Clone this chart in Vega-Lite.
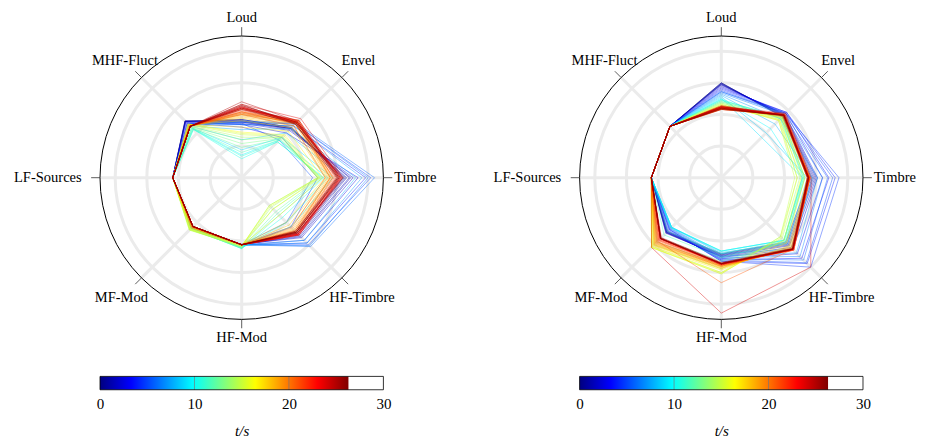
{
  "$schema": "https://vega.github.io/schema/vega-lite/v6.json",
  "padding": {"left": 13, "top": 10, "right": 0, "bottom": 0},
  "background": "#ffffff",
  "config": {"view": {"stroke": null}, "font": "Liberation Serif"},
  "bounds": "flush",
  "spacing": 195.6,
  "datasets": {
    "grid": [{"r": 0.25}, {"r": 0.5}, {"r": 0.75}, {"r": 1.0}],
    "outer": [{"r": 1.12}],
    "axes": [
      {"name": "Loud", "k": 0}, {"name": "Envel", "k": 1}, {"name": "Timbre", "k": 2}, {"name": "HF-Timbre", "k": 3},
      {"name": "HF-Mod", "k": 4}, {"name": "MF-Mod", "k": 5}, {"name": "LF-Sources", "k": 6}, {"name": "MHF-Fluct", "k": 7}
    ],
    "bar": [{"t0": 0, "t1": 26.3}],
    "frame": [{"t0": 0, "t1": 30}],
    "inner": [{"t": 10}, {"t": 20}],
    "left": [
      {"t":0,"Loud":0.46,"Envel":0.56,"Timbre":0.8,"HF-Timbre":0.62,"HF-Mod":0.53,"MF-Mod":0.55,"LF-Sources":0.545,"MHF-Fluct":0.63},
      {"t":0.3,"Loud":0.46,"Envel":0.56,"Timbre":0.81,"HF-Timbre":0.62,"HF-Mod":0.53,"MF-Mod":0.553,"LF-Sources":0.545,"MHF-Fluct":0.633},
      {"t":0.65,"Loud":0.45,"Envel":0.55,"Timbre":0.82,"HF-Timbre":0.63,"HF-Mod":0.53,"MF-Mod":0.555,"LF-Sources":0.545,"MHF-Fluct":0.635},
      {"t":1.0,"Loud":0.45,"Envel":0.55,"Timbre":0.83,"HF-Timbre":0.64,"HF-Mod":0.53,"MF-Mod":0.557,"LF-Sources":0.545,"MHF-Fluct":0.632},
      {"t":1.3,"Loud":0.44,"Envel":0.55,"Timbre":0.85,"HF-Timbre":0.65,"HF-Mod":0.53,"MF-Mod":0.56,"LF-Sources":0.545,"MHF-Fluct":0.63},
      {"t":1.6,"Loud":0.44,"Envel":0.54,"Timbre":0.86,"HF-Timbre":0.66,"HF-Mod":0.528,"MF-Mod":0.56,"LF-Sources":0.545,"MHF-Fluct":0.628},
      {"t":1.95,"Loud":0.43,"Envel":0.53,"Timbre":0.88,"HF-Timbre":0.67,"HF-Mod":0.525,"MF-Mod":0.56,"LF-Sources":0.545,"MHF-Fluct":0.625},
      {"t":2.6,"Loud":0.42,"Envel":0.5,"Timbre":0.92,"HF-Timbre":0.7,"HF-Mod":0.53,"MF-Mod":0.565,"LF-Sources":0.545,"MHF-Fluct":0.62},
      {"t":3.25,"Loud":0.4,"Envel":0.45,"Timbre":0.6,"HF-Timbre":0.55,"HF-Mod":0.53,"MF-Mod":0.56,"LF-Sources":0.545,"MHF-Fluct":0.61},
      {"t":3.9,"Loud":0.42,"Envel":0.58,"Timbre":0.98,"HF-Timbre":0.73,"HF-Mod":0.53,"MF-Mod":0.565,"LF-Sources":0.545,"MHF-Fluct":0.61},
      {"t":4.55,"Loud":0.44,"Envel":0.6,"Timbre":1.02,"HF-Timbre":0.75,"HF-Mod":0.53,"MF-Mod":0.56,"LF-Sources":0.545,"MHF-Fluct":0.6},
      {"t":5.2,"Loud":0.43,"Envel":0.42,"Timbre":0.56,"HF-Timbre":0.5,"HF-Mod":0.53,"MF-Mod":0.56,"LF-Sources":0.545,"MHF-Fluct":0.6},
      {"t":5.85,"Loud":0.45,"Envel":0.61,"Timbre":1.05,"HF-Timbre":0.77,"HF-Mod":0.53,"MF-Mod":0.56,"LF-Sources":0.545,"MHF-Fluct":0.595},
      {"t":6.5,"Loud":0.44,"Envel":0.6,"Timbre":1.0,"HF-Timbre":0.76,"HF-Mod":0.53,"MF-Mod":0.56,"LF-Sources":0.545,"MHF-Fluct":0.59},
      {"t":7.15,"Loud":0.42,"Envel":0.58,"Timbre":0.95,"HF-Timbre":0.73,"HF-Mod":0.535,"MF-Mod":0.56,"LF-Sources":0.545,"MHF-Fluct":0.585},
      {"t":7.8,"Loud":0.38,"Envel":0.55,"Timbre":0.9,"HF-Timbre":0.7,"HF-Mod":0.535,"MF-Mod":0.56,"LF-Sources":0.545,"MHF-Fluct":0.58},
      {"t":8.45,"Loud":0.3,"Envel":0.5,"Timbre":0.8,"HF-Timbre":0.62,"HF-Mod":0.54,"MF-Mod":0.56,"LF-Sources":0.545,"MHF-Fluct":0.575},
      {"t":9.1,"Loud":0.22,"Envel":0.45,"Timbre":0.72,"HF-Timbre":0.55,"HF-Mod":0.55,"MF-Mod":0.56,"LF-Sources":0.545,"MHF-Fluct":0.56},
      {"t":9.75,"Loud":0.18,"Envel":0.42,"Timbre":0.68,"HF-Timbre":0.5,"HF-Mod":0.555,"MF-Mod":0.56,"LF-Sources":0.545,"MHF-Fluct":0.55},
      {"t":10.4,"Loud":0.15,"Envel":0.4,"Timbre":0.65,"HF-Timbre":0.45,"HF-Mod":0.56,"MF-Mod":0.565,"LF-Sources":0.545,"MHF-Fluct":0.54},
      {"t":11.05,"Loud":0.17,"Envel":0.4,"Timbre":0.64,"HF-Timbre":0.42,"HF-Mod":0.56,"MF-Mod":0.57,"LF-Sources":0.545,"MHF-Fluct":0.54},
      {"t":11.7,"Loud":0.2,"Envel":0.42,"Timbre":0.63,"HF-Timbre":0.4,"HF-Mod":0.56,"MF-Mod":0.57,"LF-Sources":0.545,"MHF-Fluct":0.545},
      {"t":12.35,"Loud":0.24,"Envel":0.43,"Timbre":0.62,"HF-Timbre":0.38,"HF-Mod":0.555,"MF-Mod":0.575,"LF-Sources":0.545,"MHF-Fluct":0.55},
      {"t":13.0,"Loud":0.27,"Envel":0.44,"Timbre":0.61,"HF-Timbre":0.35,"HF-Mod":0.55,"MF-Mod":0.58,"LF-Sources":0.545,"MHF-Fluct":0.56},
      {"t":13.65,"Loud":0.3,"Envel":0.45,"Timbre":0.6,"HF-Timbre":0.33,"HF-Mod":0.55,"MF-Mod":0.58,"LF-Sources":0.545,"MHF-Fluct":0.57},
      {"t":14.3,"Loud":0.32,"Envel":0.45,"Timbre":0.6,"HF-Timbre":0.31,"HF-Mod":0.545,"MF-Mod":0.585,"LF-Sources":0.545,"MHF-Fluct":0.58},
      {"t":14.95,"Loud":0.34,"Envel":0.46,"Timbre":0.6,"HF-Timbre":0.31,"HF-Mod":0.54,"MF-Mod":0.585,"LF-Sources":0.545,"MHF-Fluct":0.59},
      {"t":15.6,"Loud":0.35,"Envel":0.47,"Timbre":0.61,"HF-Timbre":0.32,"HF-Mod":0.54,"MF-Mod":0.58,"LF-Sources":0.545,"MHF-Fluct":0.6},
      {"t":16.25,"Loud":0.36,"Envel":0.48,"Timbre":0.62,"HF-Timbre":0.35,"HF-Mod":0.535,"MF-Mod":0.575,"LF-Sources":0.545,"MHF-Fluct":0.6},
      {"t":16.9,"Loud":0.4,"Envel":0.52,"Timbre":0.64,"HF-Timbre":0.42,"HF-Mod":0.535,"MF-Mod":0.57,"LF-Sources":0.545,"MHF-Fluct":0.595},
      {"t":17.55,"Loud":0.45,"Envel":0.56,"Timbre":0.66,"HF-Timbre":0.5,"HF-Mod":0.53,"MF-Mod":0.565,"LF-Sources":0.545,"MHF-Fluct":0.59},
      {"t":17.9,"Loud":0.47,"Envel":0.58,"Timbre":0.67,"HF-Timbre":0.53,"HF-Mod":0.53,"MF-Mod":0.56,"LF-Sources":0.545,"MHF-Fluct":0.588},
      {"t":18.2,"Loud":0.48,"Envel":0.6,"Timbre":0.68,"HF-Timbre":0.55,"HF-Mod":0.53,"MF-Mod":0.56,"LF-Sources":0.545,"MHF-Fluct":0.585},
      {"t":18.5,"Loud":0.49,"Envel":0.61,"Timbre":0.69,"HF-Timbre":0.57,"HF-Mod":0.53,"MF-Mod":0.558,"LF-Sources":0.545,"MHF-Fluct":0.583},
      {"t":18.85,"Loud":0.5,"Envel":0.62,"Timbre":0.7,"HF-Timbre":0.58,"HF-Mod":0.53,"MF-Mod":0.555,"LF-Sources":0.545,"MHF-Fluct":0.58},
      {"t":19.2,"Loud":0.5,"Envel":0.62,"Timbre":0.71,"HF-Timbre":0.59,"HF-Mod":0.53,"MF-Mod":0.552,"LF-Sources":0.545,"MHF-Fluct":0.58},
      {"t":19.5,"Loud":0.51,"Envel":0.63,"Timbre":0.7,"HF-Timbre":0.6,"HF-Mod":0.53,"MF-Mod":0.55,"LF-Sources":0.545,"MHF-Fluct":0.58},
      {"t":19.8,"Loud":0.52,"Envel":0.64,"Timbre":0.72,"HF-Timbre":0.61,"HF-Mod":0.53,"MF-Mod":0.55,"LF-Sources":0.545,"MHF-Fluct":0.578},
      {"t":20.15,"Loud":0.52,"Envel":0.62,"Timbre":0.72,"HF-Timbre":0.6,"HF-Mod":0.53,"MF-Mod":0.55,"LF-Sources":0.545,"MHF-Fluct":0.575},
      {"t":20.5,"Loud":0.51,"Envel":0.61,"Timbre":0.7,"HF-Timbre":0.59,"HF-Mod":0.53,"MF-Mod":0.55,"LF-Sources":0.545,"MHF-Fluct":0.576},
      {"t":20.8,"Loud":0.5,"Envel":0.58,"Timbre":0.66,"HF-Timbre":0.56,"HF-Mod":0.53,"MF-Mod":0.55,"LF-Sources":0.545,"MHF-Fluct":0.575},
      {"t":21.1,"Loud":0.52,"Envel":0.6,"Timbre":0.73,"HF-Timbre":0.61,"HF-Mod":0.53,"MF-Mod":0.547,"LF-Sources":0.545,"MHF-Fluct":0.575},
      {"t":21.45,"Loud":0.53,"Envel":0.62,"Timbre":0.74,"HF-Timbre":0.62,"HF-Mod":0.53,"MF-Mod":0.545,"LF-Sources":0.545,"MHF-Fluct":0.575},
      {"t":21.8,"Loud":0.54,"Envel":0.64,"Timbre":0.75,"HF-Timbre":0.63,"HF-Mod":0.53,"MF-Mod":0.545,"LF-Sources":0.545,"MHF-Fluct":0.575},
      {"t":22.1,"Loud":0.54,"Envel":0.63,"Timbre":0.76,"HF-Timbre":0.63,"HF-Mod":0.53,"MF-Mod":0.545,"LF-Sources":0.545,"MHF-Fluct":0.575},
      {"t":22.4,"Loud":0.55,"Envel":0.63,"Timbre":0.77,"HF-Timbre":0.64,"HF-Mod":0.53,"MF-Mod":0.545,"LF-Sources":0.545,"MHF-Fluct":0.575},
      {"t":22.75,"Loud":0.55,"Envel":0.62,"Timbre":0.78,"HF-Timbre":0.64,"HF-Mod":0.53,"MF-Mod":0.545,"LF-Sources":0.545,"MHF-Fluct":0.575},
      {"t":23.1,"Loud":0.56,"Envel":0.62,"Timbre":0.78,"HF-Timbre":0.63,"HF-Mod":0.53,"MF-Mod":0.545,"LF-Sources":0.545,"MHF-Fluct":0.575},
      {"t":23.4,"Loud":0.56,"Envel":0.61,"Timbre":0.79,"HF-Timbre":0.63,"HF-Mod":0.53,"MF-Mod":0.545,"LF-Sources":0.545,"MHF-Fluct":0.575},
      {"t":23.7,"Loud":0.58,"Envel":0.66,"Timbre":0.8,"HF-Timbre":0.64,"HF-Mod":0.53,"MF-Mod":0.545,"LF-Sources":0.545,"MHF-Fluct":0.575},
      {"t":24.05,"Loud":0.57,"Envel":0.62,"Timbre":0.8,"HF-Timbre":0.62,"HF-Mod":0.53,"MF-Mod":0.545,"LF-Sources":0.545,"MHF-Fluct":0.575},
      {"t":24.4,"Loud":0.56,"Envel":0.61,"Timbre":0.79,"HF-Timbre":0.62,"HF-Mod":0.53,"MF-Mod":0.545,"LF-Sources":0.545,"MHF-Fluct":0.575},
      {"t":24.7,"Loud":0.55,"Envel":0.64,"Timbre":0.78,"HF-Timbre":0.61,"HF-Mod":0.53,"MF-Mod":0.545,"LF-Sources":0.545,"MHF-Fluct":0.575},
      {"t":25.0,"Loud":0.6,"Envel":0.63,"Timbre":0.77,"HF-Timbre":0.61,"HF-Mod":0.53,"MF-Mod":0.545,"LF-Sources":0.545,"MHF-Fluct":0.575},
      {"t":25.35,"Loud":0.58,"Envel":0.6,"Timbre":0.76,"HF-Timbre":0.6,"HF-Mod":0.53,"MF-Mod":0.545,"LF-Sources":0.545,"MHF-Fluct":0.575},
      {"t":25.7,"Loud":0.55,"Envel":0.6,"Timbre":0.75,"HF-Timbre":0.6,"HF-Mod":0.53,"MF-Mod":0.545,"LF-Sources":0.545,"MHF-Fluct":0.575},
      {"t":26.0,"Loud":0.54,"Envel":0.61,"Timbre":0.77,"HF-Timbre":0.61,"HF-Mod":0.53,"MF-Mod":0.545,"LF-Sources":0.545,"MHF-Fluct":0.575},
      {"t":26.2,"Loud":0.57,"Envel":0.62,"Timbre":0.76,"HF-Timbre":0.61,"HF-Mod":0.53,"MF-Mod":0.545,"LF-Sources":0.545,"MHF-Fluct":0.575}
    ],
    "right": [
      {"t":0,"Loud":0.75,"Envel":0.68,"Timbre":0.7,"HF-Timbre":0.72,"HF-Mod":0.6,"MF-Mod":0.6,"LF-Sources":0.553,"MHF-Fluct":0.574},
      {"t":0.3,"Loud":0.75,"Envel":0.685,"Timbre":0.71,"HF-Timbre":0.73,"HF-Mod":0.605,"MF-Mod":0.605,"LF-Sources":0.553,"MHF-Fluct":0.574},
      {"t":0.65,"Loud":0.74,"Envel":0.69,"Timbre":0.72,"HF-Timbre":0.74,"HF-Mod":0.61,"MF-Mod":0.61,"LF-Sources":0.553,"MHF-Fluct":0.574},
      {"t":1.0,"Loud":0.745,"Envel":0.695,"Timbre":0.73,"HF-Timbre":0.75,"HF-Mod":0.615,"MF-Mod":0.615,"LF-Sources":0.553,"MHF-Fluct":0.574},
      {"t":1.3,"Loud":0.74,"Envel":0.7,"Timbre":0.74,"HF-Timbre":0.76,"HF-Mod":0.62,"MF-Mod":0.62,"LF-Sources":0.553,"MHF-Fluct":0.574},
      {"t":1.6,"Loud":0.735,"Envel":0.705,"Timbre":0.75,"HF-Timbre":0.78,"HF-Mod":0.625,"MF-Mod":0.615,"LF-Sources":0.553,"MHF-Fluct":0.574},
      {"t":1.95,"Loud":0.73,"Envel":0.71,"Timbre":0.76,"HF-Timbre":0.8,"HF-Mod":0.63,"MF-Mod":0.61,"LF-Sources":0.553,"MHF-Fluct":0.574},
      {"t":2.6,"Loud":0.72,"Envel":0.72,"Timbre":0.8,"HF-Timbre":0.85,"HF-Mod":0.64,"MF-Mod":0.6,"LF-Sources":0.553,"MHF-Fluct":0.574},
      {"t":3.25,"Loud":0.71,"Envel":0.73,"Timbre":0.85,"HF-Timbre":0.9,"HF-Mod":0.65,"MF-Mod":0.59,"LF-Sources":0.553,"MHF-Fluct":0.574},
      {"t":3.9,"Loud":0.7,"Envel":0.73,"Timbre":0.9,"HF-Timbre":0.96,"HF-Mod":0.66,"MF-Mod":0.58,"LF-Sources":0.553,"MHF-Fluct":0.574},
      {"t":4.55,"Loud":0.69,"Envel":0.72,"Timbre":0.93,"HF-Timbre":1.0,"HF-Mod":0.66,"MF-Mod":0.58,"LF-Sources":0.553,"MHF-Fluct":0.574},
      {"t":5.2,"Loud":0.68,"Envel":0.72,"Timbre":0.88,"HF-Timbre":0.95,"HF-Mod":0.65,"MF-Mod":0.575,"LF-Sources":0.553,"MHF-Fluct":0.574},
      {"t":5.85,"Loud":0.68,"Envel":0.71,"Timbre":0.84,"HF-Timbre":0.92,"HF-Mod":0.64,"MF-Mod":0.57,"LF-Sources":0.553,"MHF-Fluct":0.574},
      {"t":6.5,"Loud":0.67,"Envel":0.7,"Timbre":0.8,"HF-Timbre":0.88,"HF-Mod":0.63,"MF-Mod":0.565,"LF-Sources":0.553,"MHF-Fluct":0.574},
      {"t":7.15,"Loud":0.66,"Envel":0.66,"Timbre":0.76,"HF-Timbre":0.84,"HF-Mod":0.62,"MF-Mod":0.56,"LF-Sources":0.553,"MHF-Fluct":0.574},
      {"t":7.8,"Loud":0.65,"Envel":0.6,"Timbre":0.72,"HF-Timbre":0.8,"HF-Mod":0.6,"MF-Mod":0.555,"LF-Sources":0.553,"MHF-Fluct":0.574},
      {"t":8.45,"Loud":0.64,"Envel":0.5,"Timbre":0.68,"HF-Timbre":0.74,"HF-Mod":0.59,"MF-Mod":0.555,"LF-Sources":0.553,"MHF-Fluct":0.574},
      {"t":9.1,"Loud":0.63,"Envel":0.45,"Timbre":0.64,"HF-Timbre":0.7,"HF-Mod":0.58,"MF-Mod":0.555,"LF-Sources":0.553,"MHF-Fluct":0.574},
      {"t":9.75,"Loud":0.62,"Envel":0.55,"Timbre":0.64,"HF-Timbre":0.7,"HF-Mod":0.58,"MF-Mod":0.555,"LF-Sources":0.553,"MHF-Fluct":0.574},
      {"t":10.4,"Loud":0.62,"Envel":0.66,"Timbre":0.65,"HF-Timbre":0.7,"HF-Mod":0.58,"MF-Mod":0.56,"LF-Sources":0.553,"MHF-Fluct":0.574},
      {"t":11.05,"Loud":0.61,"Envel":0.68,"Timbre":0.66,"HF-Timbre":0.71,"HF-Mod":0.6,"MF-Mod":0.6,"LF-Sources":0.553,"MHF-Fluct":0.574},
      {"t":11.7,"Loud":0.61,"Envel":0.68,"Timbre":0.66,"HF-Timbre":0.72,"HF-Mod":0.63,"MF-Mod":0.64,"LF-Sources":0.553,"MHF-Fluct":0.574},
      {"t":12.35,"Loud":0.6,"Envel":0.67,"Timbre":0.65,"HF-Timbre":0.72,"HF-Mod":0.66,"MF-Mod":0.68,"LF-Sources":0.553,"MHF-Fluct":0.574},
      {"t":13.0,"Loud":0.6,"Envel":0.67,"Timbre":0.64,"HF-Timbre":0.7,"HF-Mod":0.69,"MF-Mod":0.72,"LF-Sources":0.553,"MHF-Fluct":0.574},
      {"t":13.65,"Loud":0.59,"Envel":0.66,"Timbre":0.62,"HF-Timbre":0.68,"HF-Mod":0.72,"MF-Mod":0.75,"LF-Sources":0.553,"MHF-Fluct":0.574},
      {"t":14.3,"Loud":0.59,"Envel":0.65,"Timbre":0.6,"HF-Timbre":0.66,"HF-Mod":0.75,"MF-Mod":0.77,"LF-Sources":0.553,"MHF-Fluct":0.574},
      {"t":14.95,"Loud":0.58,"Envel":0.64,"Timbre":0.58,"HF-Timbre":0.66,"HF-Mod":0.76,"MF-Mod":0.78,"LF-Sources":0.553,"MHF-Fluct":0.574},
      {"t":15.6,"Loud":0.58,"Envel":0.64,"Timbre":0.6,"HF-Timbre":0.67,"HF-Mod":0.76,"MF-Mod":0.78,"LF-Sources":0.553,"MHF-Fluct":0.574},
      {"t":16.25,"Loud":0.57,"Envel":0.65,"Timbre":0.63,"HF-Timbre":0.7,"HF-Mod":0.75,"MF-Mod":0.78,"LF-Sources":0.553,"MHF-Fluct":0.574},
      {"t":16.9,"Loud":0.57,"Envel":0.67,"Timbre":0.66,"HF-Timbre":0.73,"HF-Mod":0.73,"MF-Mod":0.77,"LF-Sources":0.553,"MHF-Fluct":0.574},
      {"t":17.55,"Loud":0.56,"Envel":0.68,"Timbre":0.68,"HF-Timbre":0.76,"HF-Mod":0.72,"MF-Mod":0.76,"LF-Sources":0.553,"MHF-Fluct":0.574},
      {"t":17.9,"Loud":0.56,"Envel":0.685,"Timbre":0.685,"HF-Timbre":0.77,"HF-Mod":0.715,"MF-Mod":0.755,"LF-Sources":0.553,"MHF-Fluct":0.574},
      {"t":18.2,"Loud":0.56,"Envel":0.69,"Timbre":0.69,"HF-Timbre":0.78,"HF-Mod":0.71,"MF-Mod":0.75,"LF-Sources":0.553,"MHF-Fluct":0.574},
      {"t":18.5,"Loud":0.555,"Envel":0.695,"Timbre":0.695,"HF-Timbre":0.785,"HF-Mod":0.705,"MF-Mod":0.745,"LF-Sources":0.553,"MHF-Fluct":0.574},
      {"t":18.85,"Loud":0.55,"Envel":0.7,"Timbre":0.7,"HF-Timbre":0.79,"HF-Mod":0.7,"MF-Mod":0.74,"LF-Sources":0.553,"MHF-Fluct":0.574},
      {"t":19.2,"Loud":0.55,"Envel":0.7,"Timbre":0.7,"HF-Timbre":0.795,"HF-Mod":0.7,"MF-Mod":0.735,"LF-Sources":0.553,"MHF-Fluct":0.574},
      {"t":19.5,"Loud":0.55,"Envel":0.7,"Timbre":0.7,"HF-Timbre":0.8,"HF-Mod":0.7,"MF-Mod":0.73,"LF-Sources":0.553,"MHF-Fluct":0.574},
      {"t":19.8,"Loud":0.55,"Envel":0.705,"Timbre":0.7,"HF-Timbre":0.8,"HF-Mod":0.695,"MF-Mod":0.725,"LF-Sources":0.553,"MHF-Fluct":0.574},
      {"t":20.15,"Loud":0.55,"Envel":0.71,"Timbre":0.7,"HF-Timbre":0.8,"HF-Mod":0.69,"MF-Mod":0.72,"LF-Sources":0.553,"MHF-Fluct":0.574},
      {"t":20.5,"Loud":0.545,"Envel":0.7,"Timbre":0.695,"HF-Timbre":0.8,"HF-Mod":0.69,"MF-Mod":0.715,"LF-Sources":0.553,"MHF-Fluct":0.574},
      {"t":20.8,"Loud":0.54,"Envel":0.7,"Timbre":0.69,"HF-Timbre":0.8,"HF-Mod":0.83,"MF-Mod":0.71,"LF-Sources":0.553,"MHF-Fluct":0.574},
      {"t":21.1,"Loud":0.54,"Envel":0.7,"Timbre":0.69,"HF-Timbre":0.805,"HF-Mod":0.685,"MF-Mod":0.705,"LF-Sources":0.553,"MHF-Fluct":0.574},
      {"t":21.45,"Loud":0.54,"Envel":0.7,"Timbre":0.69,"HF-Timbre":0.81,"HF-Mod":0.68,"MF-Mod":0.7,"LF-Sources":0.553,"MHF-Fluct":0.574},
      {"t":21.8,"Loud":0.545,"Envel":0.705,"Timbre":0.695,"HF-Timbre":0.81,"HF-Mod":0.68,"MF-Mod":0.695,"LF-Sources":0.553,"MHF-Fluct":0.574},
      {"t":22.1,"Loud":0.55,"Envel":0.71,"Timbre":0.7,"HF-Timbre":0.81,"HF-Mod":0.68,"MF-Mod":0.69,"LF-Sources":0.553,"MHF-Fluct":0.574},
      {"t":22.4,"Loud":0.555,"Envel":0.705,"Timbre":0.695,"HF-Timbre":0.805,"HF-Mod":0.68,"MF-Mod":0.685,"LF-Sources":0.553,"MHF-Fluct":0.574},
      {"t":22.75,"Loud":0.56,"Envel":0.7,"Timbre":0.69,"HF-Timbre":0.8,"HF-Mod":0.68,"MF-Mod":0.68,"LF-Sources":0.553,"MHF-Fluct":0.574},
      {"t":23.1,"Loud":0.555,"Envel":0.7,"Timbre":0.685,"HF-Timbre":0.8,"HF-Mod":0.685,"MF-Mod":0.68,"LF-Sources":0.553,"MHF-Fluct":0.574},
      {"t":23.4,"Loud":0.55,"Envel":0.7,"Timbre":0.68,"HF-Timbre":0.8,"HF-Mod":0.69,"MF-Mod":0.68,"LF-Sources":0.553,"MHF-Fluct":0.574},
      {"t":23.7,"Loud":0.56,"Envel":0.705,"Timbre":0.69,"HF-Timbre":0.8,"HF-Mod":0.685,"MF-Mod":0.68,"LF-Sources":0.553,"MHF-Fluct":0.574},
      {"t":24.05,"Loud":0.56,"Envel":0.72,"Timbre":0.71,"HF-Timbre":1.0,"HF-Mod":1.07,"MF-Mod":0.78,"LF-Sources":0.553,"MHF-Fluct":0.574},
      {"t":24.4,"Loud":0.565,"Envel":0.7,"Timbre":0.69,"HF-Timbre":0.8,"HF-Mod":0.68,"MF-Mod":0.68,"LF-Sources":0.553,"MHF-Fluct":0.574},
      {"t":24.7,"Loud":0.57,"Envel":0.7,"Timbre":0.69,"HF-Timbre":0.8,"HF-Mod":0.68,"MF-Mod":0.68,"LF-Sources":0.553,"MHF-Fluct":0.574},
      {"t":25.0,"Loud":0.56,"Envel":0.695,"Timbre":0.685,"HF-Timbre":0.795,"HF-Mod":0.675,"MF-Mod":0.675,"LF-Sources":0.553,"MHF-Fluct":0.574},
      {"t":25.35,"Loud":0.55,"Envel":0.69,"Timbre":0.68,"HF-Timbre":0.79,"HF-Mod":0.67,"MF-Mod":0.67,"LF-Sources":0.553,"MHF-Fluct":0.574},
      {"t":25.7,"Loud":0.55,"Envel":0.695,"Timbre":0.685,"HF-Timbre":0.795,"HF-Mod":0.675,"MF-Mod":0.675,"LF-Sources":0.553,"MHF-Fluct":0.574},
      {"t":26.0,"Loud":0.54,"Envel":0.7,"Timbre":0.69,"HF-Timbre":0.8,"HF-Mod":0.68,"MF-Mod":0.68,"LF-Sources":0.553,"MHF-Fluct":0.574},
      {"t":26.2,"Loud":0.545,"Envel":0.7,"Timbre":0.69,"HF-Timbre":0.8,"HF-Mod":0.68,"MF-Mod":0.68,"LF-Sources":0.553,"MHF-Fluct":0.574}
    ]
  },
  "hconcat": [
    {
      "width": 283.4, "height": 353.75,
      "resolve": {"scale": {"x": "independent"}},
      "layer": [
        {
          "layer": [
            {"data": {"name": "grid"},
             "transform": [{"calculate": "0", "as": "c"}],
             "mark": {"type": "point", "shape": "circle", "filled": false, "stroke": "#ebebeb", "strokeWidth": 3, "opacity": 1},
             "encoding": {
               "x": {"field": "c", "type": "quantitative", "scale": {"domain": [-1.12, 1.12], "nice": false, "zero": false}, "axis": null},
               "y": {"field": "c", "type": "quantitative", "scale": {"domain": [-1.676, 1.12], "nice": false, "zero": false}, "axis": null},
               "size": {"field": "r", "type": "quantitative", "scale": {"type": "pow", "exponent": 2, "domain": [0, 1.12], "range": [0, 80316]}, "legend": null}
             }},
            {"data": {"name": "axes"},
             "transform": [{"calculate": "0", "as": "c"}, {"calculate": "1.12*sin(datum.k*PI/4)", "as": "ex"}, {"calculate": "1.12*cos(datum.k*PI/4)", "as": "ey"}],
             "mark": {"type": "rule", "color": "#ebebeb", "strokeWidth": 3},
             "encoding": {"x": {"field": "c", "type": "quantitative"}, "y": {"field": "c", "type": "quantitative"}, "x2": {"field": "ex"}, "y2": {"field": "ey"}}},
            {"data": {"name": "outer"},
             "transform": [{"calculate": "0", "as": "c"}],
             "mark": {"type": "point", "shape": "circle", "filled": false, "stroke": "#000000", "strokeWidth": 1, "opacity": 1},
             "encoding": {"x": {"field": "c", "type": "quantitative"}, "y": {"field": "c", "type": "quantitative"},
               "size": {"field": "r", "type": "quantitative", "legend": null}}},
            {"data": {"name": "axes"},
             "transform": [{"calculate": "1.12*sin(datum.k*PI/4)", "as": "ax"}, {"calculate": "1.12*cos(datum.k*PI/4)", "as": "ay"}, {"calculate": "1.19*sin(datum.k*PI/4)", "as": "bx"}, {"calculate": "1.19*cos(datum.k*PI/4)", "as": "by"}],
             "mark": {"type": "rule", "color": "#333333", "strokeWidth": 0.8},
             "encoding": {"x": {"field": "ax", "type": "quantitative"}, "y": {"field": "ay", "type": "quantitative"}, "x2": {"field": "bx"}, "y2": {"field": "by"}}},
            {"data": {"name": "left"},
             "transform": [
               {"fold": ["Loud", "Envel", "Timbre", "HF-Timbre", "HF-Mod", "MF-Mod", "LF-Sources", "MHF-Fluct"], "as": ["axis", "r"]},
               {"calculate": "indexof(['Loud','Envel','Timbre','HF-Timbre','HF-Mod','MF-Mod','LF-Sources','MHF-Fluct'], datum.axis)", "as": "k"},
               {"calculate": "datum.r*sin(datum.k*PI/4)", "as": "px"},
               {"calculate": "datum.r*cos(datum.k*PI/4)", "as": "py"}
             ],
             "mark": {"type": "line", "interpolate": "linear-closed", "strokeWidth": 1, "opacity": 0.42},
             "encoding": {
               "x": {"field": "px", "type": "quantitative"},
               "y": {"field": "py", "type": "quantitative"},
               "detail": {"field": "t", "type": "quantitative"},
               "order": {"field": "k", "type": "quantitative"},
               "color": {"field": "t", "type": "quantitative", "legend": null,
                 "scale": {"domain": [0, 3.2875, 9.8625, 16.4375, 23.0125, 26.3], "range": ["#000080", "#0000ff", "#00ffff", "#ffff00", "#ff0000", "#800000"], "interpolate": "rgb"}}
             }},
            {"data": {"name": "axes"},
             "transform": [{"filter": "datum.k == 0"}, {"calculate": "1.23*sin(datum.k*PI/4)", "as": "lx"}, {"calculate": "1.23*cos(datum.k*PI/4)", "as": "ly"}],
             "mark": {"type": "text", "align": "center", "baseline": "alphabetic", "fontSize": 14.5, "font": "Liberation Serif", "color": "#000000"},
             "encoding": {"x": {"field": "lx", "type": "quantitative"}, "y": {"field": "ly", "type": "quantitative"}, "text": {"field": "name", "type": "nominal"}}},
            {"data": {"name": "axes"},
             "transform": [{"filter": "datum.k == 4"}, {"calculate": "1.27*sin(datum.k*PI/4)", "as": "lx"}, {"calculate": "1.27*cos(datum.k*PI/4)", "as": "ly"}],
             "mark": {"type": "text", "align": "center", "baseline": "middle", "fontSize": 14.5, "font": "Liberation Serif", "color": "#000000"},
             "encoding": {"x": {"field": "lx", "type": "quantitative"}, "y": {"field": "ly", "type": "quantitative"}, "text": {"field": "name", "type": "nominal"}}},
            {"data": {"name": "axes"},
             "transform": [{"filter": "datum.k == 2"}, {"calculate": "1.205*sin(datum.k*PI/4)", "as": "lx"}, {"calculate": "1.205*cos(datum.k*PI/4)", "as": "ly"}],
             "mark": {"type": "text", "align": "left", "baseline": "middle", "fontSize": 14.5, "font": "Liberation Serif", "color": "#000000"},
             "encoding": {"x": {"field": "lx", "type": "quantitative"}, "y": {"field": "ly", "type": "quantitative"}, "text": {"field": "name", "type": "nominal"}}},
            {"data": {"name": "axes"},
             "transform": [{"filter": "datum.k == 6"}, {"calculate": "1.265*sin(datum.k*PI/4)", "as": "lx"}, {"calculate": "1.265*cos(datum.k*PI/4)", "as": "ly"}],
             "mark": {"type": "text", "align": "right", "baseline": "middle", "fontSize": 14.5, "font": "Liberation Serif", "color": "#000000"},
             "encoding": {"x": {"field": "lx", "type": "quantitative"}, "y": {"field": "ly", "type": "quantitative"}, "text": {"field": "name", "type": "nominal"}}},
            {"data": {"name": "axes"},
             "transform": [{"filter": "datum.k == 1 || datum.k == 7"}, {"calculate": "1.305*sin(datum.k*PI/4)", "as": "lx"}, {"calculate": "1.305*cos(datum.k*PI/4)", "as": "ly"}],
             "mark": {"type": "text", "align": "center", "baseline": "middle", "fontSize": 14.5, "font": "Liberation Serif", "color": "#000000"},
             "encoding": {"x": {"field": "lx", "type": "quantitative"}, "y": {"field": "ly", "type": "quantitative"}, "text": {"field": "name", "type": "nominal"}}},
            {"data": {"name": "axes"},
             "transform": [{"filter": "datum.k == 3 || datum.k == 5"}, {"calculate": "1.345*sin(datum.k*PI/4)", "as": "lx"}, {"calculate": "1.345*cos(datum.k*PI/4)", "as": "ly"}],
             "mark": {"type": "text", "align": "center", "baseline": "middle", "fontSize": 14.5, "font": "Liberation Serif", "color": "#000000"},
             "encoding": {"x": {"field": "lx", "type": "quantitative"}, "y": {"field": "ly", "type": "quantitative"}, "text": {"field": "name", "type": "nominal"}}}
          ]
        },
        {
          "layer": [
            {"data": {"name": "bar"},
             "transform": [{"calculate": "-1.5705", "as": "yt"}, {"calculate": "-1.676", "as": "yb"}],
             "mark": {"type": "rect", "color": {"gradient": "linear", "x1": 0, "y1": 0, "x2": 1, "y2": 0,
               "stops": [{"offset": 0, "color": "#000080"}, {"offset": 0.125, "color": "#0000ff"}, {"offset": 0.375, "color": "#00ffff"}, {"offset": 0.625, "color": "#ffff00"}, {"offset": 0.875, "color": "#ff0000"}, {"offset": 1, "color": "#800000"}]}},
             "encoding": {
               "x": {"field": "t0", "type": "quantitative", "scale": {"domain": [0, 30], "nice": false, "zero": false},
                 "axis": {"orient": "bottom", "values": [0, 10, 20, 30], "ticks": false, "domain": false, "grid": false, "labelFlush": false, "labelOverlap": false,
                   "labelFont": "Liberation Serif", "labelFontSize": 15, "labelColor": "#000000", "labelPadding": 7,
                   "title": "t/s", "titleFont": "Liberation Serif", "titleFontSize": 15, "titleFontStyle": "italic", "titleFontWeight": "normal", "titleColor": "#000000", "titlePadding": 12}},
               "x2": {"field": "t1"},
               "y": {"field": "yt", "type": "quantitative"},
               "y2": {"field": "yb"}
             }},
            {"data": {"name": "inner"},
             "transform": [{"calculate": "-1.5705", "as": "yt"}, {"calculate": "-1.676", "as": "yb"}],
             "mark": {"type": "rule", "color": "#777777", "strokeWidth": 0.7},
             "encoding": {"x": {"field": "t", "type": "quantitative"}, "y": {"field": "yt", "type": "quantitative"}, "y2": {"field": "yb"}}},
            {"data": {"name": "frame"},
             "transform": [{"calculate": "-1.5705", "as": "yt"}, {"calculate": "-1.676", "as": "yb"}],
             "mark": {"type": "rect", "fillOpacity": 0, "stroke": "#000000", "strokeWidth": 0.8},
             "encoding": {"x": {"field": "t0", "type": "quantitative"}, "x2": {"field": "t1"}, "y": {"field": "yt", "type": "quantitative"}, "y2": {"field": "yb"}}}
          ]
        }
      ]
    },
    {
      "width": 283.4, "height": 353.75,
      "resolve": {"scale": {"x": "independent"}},
      "layer": [
        {
          "layer": [
            {"data": {"name": "grid"},
             "transform": [{"calculate": "0", "as": "c"}],
             "mark": {"type": "point", "shape": "circle", "filled": false, "stroke": "#ebebeb", "strokeWidth": 3, "opacity": 1},
             "encoding": {
               "x": {"field": "c", "type": "quantitative", "scale": {"domain": [-1.12, 1.12], "nice": false, "zero": false}, "axis": null},
               "y": {"field": "c", "type": "quantitative", "scale": {"domain": [-1.676, 1.12], "nice": false, "zero": false}, "axis": null},
               "size": {"field": "r", "type": "quantitative", "scale": {"type": "pow", "exponent": 2, "domain": [0, 1.12], "range": [0, 80316]}, "legend": null}
             }},
            {"data": {"name": "axes"},
             "transform": [{"calculate": "0", "as": "c"}, {"calculate": "1.12*sin(datum.k*PI/4)", "as": "ex"}, {"calculate": "1.12*cos(datum.k*PI/4)", "as": "ey"}],
             "mark": {"type": "rule", "color": "#ebebeb", "strokeWidth": 3},
             "encoding": {"x": {"field": "c", "type": "quantitative"}, "y": {"field": "c", "type": "quantitative"}, "x2": {"field": "ex"}, "y2": {"field": "ey"}}},
            {"data": {"name": "outer"},
             "transform": [{"calculate": "0", "as": "c"}],
             "mark": {"type": "point", "shape": "circle", "filled": false, "stroke": "#000000", "strokeWidth": 1, "opacity": 1},
             "encoding": {"x": {"field": "c", "type": "quantitative"}, "y": {"field": "c", "type": "quantitative"},
               "size": {"field": "r", "type": "quantitative", "legend": null}}},
            {"data": {"name": "axes"},
             "transform": [{"calculate": "1.12*sin(datum.k*PI/4)", "as": "ax"}, {"calculate": "1.12*cos(datum.k*PI/4)", "as": "ay"}, {"calculate": "1.19*sin(datum.k*PI/4)", "as": "bx"}, {"calculate": "1.19*cos(datum.k*PI/4)", "as": "by"}],
             "mark": {"type": "rule", "color": "#333333", "strokeWidth": 0.8},
             "encoding": {"x": {"field": "ax", "type": "quantitative"}, "y": {"field": "ay", "type": "quantitative"}, "x2": {"field": "bx"}, "y2": {"field": "by"}}},
            {"data": {"name": "right"},
             "transform": [
               {"fold": ["Loud", "Envel", "Timbre", "HF-Timbre", "HF-Mod", "MF-Mod", "LF-Sources", "MHF-Fluct"], "as": ["axis", "r"]},
               {"calculate": "indexof(['Loud','Envel','Timbre','HF-Timbre','HF-Mod','MF-Mod','LF-Sources','MHF-Fluct'], datum.axis)", "as": "k"},
               {"calculate": "datum.r*sin(datum.k*PI/4)", "as": "px"},
               {"calculate": "datum.r*cos(datum.k*PI/4)", "as": "py"}
             ],
             "mark": {"type": "line", "interpolate": "linear-closed", "strokeWidth": 1, "opacity": 0.42},
             "encoding": {
               "x": {"field": "px", "type": "quantitative"},
               "y": {"field": "py", "type": "quantitative"},
               "detail": {"field": "t", "type": "quantitative"},
               "order": {"field": "k", "type": "quantitative"},
               "color": {"field": "t", "type": "quantitative", "legend": null,
                 "scale": {"domain": [0, 3.2875, 9.8625, 16.4375, 23.0125, 26.3], "range": ["#000080", "#0000ff", "#00ffff", "#ffff00", "#ff0000", "#800000"], "interpolate": "rgb"}}
             }},
            {"data": {"name": "axes"},
             "transform": [{"filter": "datum.k == 0"}, {"calculate": "1.23*sin(datum.k*PI/4)", "as": "lx"}, {"calculate": "1.23*cos(datum.k*PI/4)", "as": "ly"}],
             "mark": {"type": "text", "align": "center", "baseline": "alphabetic", "fontSize": 14.5, "font": "Liberation Serif", "color": "#000000"},
             "encoding": {"x": {"field": "lx", "type": "quantitative"}, "y": {"field": "ly", "type": "quantitative"}, "text": {"field": "name", "type": "nominal"}}},
            {"data": {"name": "axes"},
             "transform": [{"filter": "datum.k == 4"}, {"calculate": "1.27*sin(datum.k*PI/4)", "as": "lx"}, {"calculate": "1.27*cos(datum.k*PI/4)", "as": "ly"}],
             "mark": {"type": "text", "align": "center", "baseline": "middle", "fontSize": 14.5, "font": "Liberation Serif", "color": "#000000"},
             "encoding": {"x": {"field": "lx", "type": "quantitative"}, "y": {"field": "ly", "type": "quantitative"}, "text": {"field": "name", "type": "nominal"}}},
            {"data": {"name": "axes"},
             "transform": [{"filter": "datum.k == 2"}, {"calculate": "1.205*sin(datum.k*PI/4)", "as": "lx"}, {"calculate": "1.205*cos(datum.k*PI/4)", "as": "ly"}],
             "mark": {"type": "text", "align": "left", "baseline": "middle", "fontSize": 14.5, "font": "Liberation Serif", "color": "#000000"},
             "encoding": {"x": {"field": "lx", "type": "quantitative"}, "y": {"field": "ly", "type": "quantitative"}, "text": {"field": "name", "type": "nominal"}}},
            {"data": {"name": "axes"},
             "transform": [{"filter": "datum.k == 6"}, {"calculate": "1.265*sin(datum.k*PI/4)", "as": "lx"}, {"calculate": "1.265*cos(datum.k*PI/4)", "as": "ly"}],
             "mark": {"type": "text", "align": "right", "baseline": "middle", "fontSize": 14.5, "font": "Liberation Serif", "color": "#000000"},
             "encoding": {"x": {"field": "lx", "type": "quantitative"}, "y": {"field": "ly", "type": "quantitative"}, "text": {"field": "name", "type": "nominal"}}},
            {"data": {"name": "axes"},
             "transform": [{"filter": "datum.k == 1 || datum.k == 7"}, {"calculate": "1.305*sin(datum.k*PI/4)", "as": "lx"}, {"calculate": "1.305*cos(datum.k*PI/4)", "as": "ly"}],
             "mark": {"type": "text", "align": "center", "baseline": "middle", "fontSize": 14.5, "font": "Liberation Serif", "color": "#000000"},
             "encoding": {"x": {"field": "lx", "type": "quantitative"}, "y": {"field": "ly", "type": "quantitative"}, "text": {"field": "name", "type": "nominal"}}},
            {"data": {"name": "axes"},
             "transform": [{"filter": "datum.k == 3 || datum.k == 5"}, {"calculate": "1.345*sin(datum.k*PI/4)", "as": "lx"}, {"calculate": "1.345*cos(datum.k*PI/4)", "as": "ly"}],
             "mark": {"type": "text", "align": "center", "baseline": "middle", "fontSize": 14.5, "font": "Liberation Serif", "color": "#000000"},
             "encoding": {"x": {"field": "lx", "type": "quantitative"}, "y": {"field": "ly", "type": "quantitative"}, "text": {"field": "name", "type": "nominal"}}}
          ]
        },
        {
          "layer": [
            {"data": {"name": "bar"},
             "transform": [{"calculate": "-1.5705", "as": "yt"}, {"calculate": "-1.676", "as": "yb"}],
             "mark": {"type": "rect", "color": {"gradient": "linear", "x1": 0, "y1": 0, "x2": 1, "y2": 0,
               "stops": [{"offset": 0, "color": "#000080"}, {"offset": 0.125, "color": "#0000ff"}, {"offset": 0.375, "color": "#00ffff"}, {"offset": 0.625, "color": "#ffff00"}, {"offset": 0.875, "color": "#ff0000"}, {"offset": 1, "color": "#800000"}]}},
             "encoding": {
               "x": {"field": "t0", "type": "quantitative", "scale": {"domain": [0, 30], "nice": false, "zero": false},
                 "axis": {"orient": "bottom", "values": [0, 10, 20, 30], "ticks": false, "domain": false, "grid": false, "labelFlush": false, "labelOverlap": false,
                   "labelFont": "Liberation Serif", "labelFontSize": 15, "labelColor": "#000000", "labelPadding": 7,
                   "title": "t/s", "titleFont": "Liberation Serif", "titleFontSize": 15, "titleFontStyle": "italic", "titleFontWeight": "normal", "titleColor": "#000000", "titlePadding": 12}},
               "x2": {"field": "t1"},
               "y": {"field": "yt", "type": "quantitative"},
               "y2": {"field": "yb"}
             }},
            {"data": {"name": "inner"},
             "transform": [{"calculate": "-1.5705", "as": "yt"}, {"calculate": "-1.676", "as": "yb"}],
             "mark": {"type": "rule", "color": "#777777", "strokeWidth": 0.7},
             "encoding": {"x": {"field": "t", "type": "quantitative"}, "y": {"field": "yt", "type": "quantitative"}, "y2": {"field": "yb"}}},
            {"data": {"name": "frame"},
             "transform": [{"calculate": "-1.5705", "as": "yt"}, {"calculate": "-1.676", "as": "yb"}],
             "mark": {"type": "rect", "fillOpacity": 0, "stroke": "#000000", "strokeWidth": 0.8},
             "encoding": {"x": {"field": "t0", "type": "quantitative"}, "x2": {"field": "t1"}, "y": {"field": "yt", "type": "quantitative"}, "y2": {"field": "yb"}}}
          ]
        }
      ]
    }
  ]
}
